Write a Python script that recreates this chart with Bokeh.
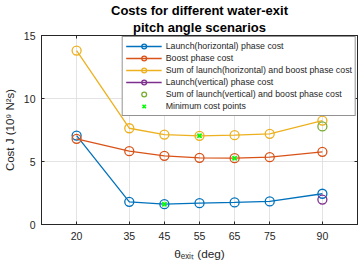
from bokeh.plotting import figure
from bokeh.models import (Legend, LegendItem, Title, Range1d, FixedTicker, LinearAxis,
                          CustomJSTickFormatter)
from bokeh.embed import file_html
from bokeh.resources import INLINE

angles = [20, 35, 45, 55, 65, 75, 90]
launch_h = [7.06, 1.80, 1.61, 1.69, 1.75, 1.83, 2.44]
boost = [6.80, 5.82, 5.45, 5.29, 5.26, 5.34, 5.77]
sum_h = [13.8, 7.64, 7.14, 7.04, 7.09, 7.20, 8.25]
launch_v_x = [90]
launch_v = [1.98]
sum_v_x = [90]
sum_v = [7.78]
min_x = [45, 55, 65]
min_y = [1.61, 7.04, 5.26]
x_ticks = [20, 35, 45, 55, 65, 75, 90]
y_ticks = [0, 5, 10, 15]
title_lines = ["Costs for different water-exit", "pitch angle scenarios"]

BLUE = "#0072BD"
ORANGE = "#D95319"
YELLOW = "#EDB120"
PURPLE = "#7E2F8E"
GREEN = "#77AC30"
LIME = "#00FF00"
AX = "#262626"
FONT = "Liberation Sans"

p = figure(width=360, height=267, output_backend="svg", toolbar_location=None,
           x_range=Range1d(10, 100), y_range=Range1d(0, 15),
           min_border_left=41, min_border_right=3, min_border_top=35, min_border_bottom=43)
p.title = None
p.background_fill_color = "white"
p.border_fill_color = "white"
p.outline_line_color = AX
p.outline_line_width = 1

xax = p.below[0]
yax = p.left[0]

# mirrored tick marks on top and right (no labels)
blank = CustomJSTickFormatter(code="return ''")
top_ax = LinearAxis(ticker=FixedTicker(ticks=x_ticks), formatter=blank,
                    major_label_standoff=0, major_tick_in=3, major_tick_out=0,
                    minor_tick_line_color=None, axis_line_color=AX, major_tick_line_color=AX)
p.add_layout(top_ax, "above")
right_ax = LinearAxis(ticker=FixedTicker(ticks=y_ticks), formatter=blank,
                      major_label_standoff=0, major_tick_in=3, major_tick_out=0,
                      minor_tick_line_color=None, axis_line_color=AX, major_tick_line_color=AX)
p.add_layout(right_ax, "right")

# title: second line first (closest to the frame), then first line above it
for txt, sto in ((title_lines[1], 1), (title_lines[0], 0)):
    p.add_layout(Title(text=txt, align="center", text_font=FONT, text_font_size="13px",
                       text_font_style="bold", text_color="black", standoff=sto), "above")

for ax in (xax, yax):
    ax.axis_line_color = AX
    ax.major_tick_line_color = AX
    ax.major_tick_in = 3
    ax.major_tick_out = 0
    ax.minor_tick_line_color = None
    ax.major_label_text_font = FONT
    ax.major_label_text_font_size = "10.5px"
    ax.major_label_text_color = AX
    ax.axis_label_text_font = FONT
    ax.axis_label_text_font_style = "normal"
    ax.axis_label_text_color = AX

xax.axis_label_text_font_size = "11.8px"
yax.axis_label_text_font_size = "11.5px"
xax.ticker = FixedTicker(ticks=x_ticks)
yax.ticker = FixedTicker(ticks=y_ticks)
xax.axis_label = "θₑₓᵢₜ (deg)"
yax.axis_label = "Cost J (10⁹ N²s)"
xax.major_label_standoff = 7
xax.axis_label_standoff = 4
yax.major_label_standoff = 6
yax.axis_label_standoff = 5

p.xgrid.ticker = FixedTicker(ticks=x_ticks)
p.ygrid.ticker = FixedTicker(ticks=y_ticks)
p.grid.grid_line_color = "#dcdcdc"
p.grid.grid_line_alpha = 0.8

msize = 9
lw = 1.3

r1l = p.line(angles, launch_h, color=BLUE, line_width=lw)
r1c = p.scatter(angles, launch_h, marker="circle", size=msize, line_color=BLUE, fill_color=None, line_width=lw)
r2l = p.line(angles, boost, color=ORANGE, line_width=lw)
r2c = p.scatter(angles, boost, marker="circle", size=msize, line_color=ORANGE, fill_color=None, line_width=lw)
r3l = p.line(angles, sum_h, color=YELLOW, line_width=lw)
r3c = p.scatter(angles, sum_h, marker="circle", size=msize, line_color=YELLOW, fill_color=None, line_width=lw)
r4l = p.line(launch_v_x, launch_v, color=PURPLE, line_width=lw)
r4c = p.scatter(launch_v_x, launch_v, marker="circle", size=msize, line_color=PURPLE, fill_color=None, line_width=lw)
r5c = p.scatter(sum_v_x, sum_v, marker="circle", size=msize, line_color=GREEN, fill_color=None, line_width=lw)
r6 = p.scatter(min_x, min_y, marker="x", size=6, line_color=LIME, line_width=1.6)

legend = Legend(items=[
    LegendItem(label="Launch(horizontal) phase cost", renderers=[r1l, r1c]),
    LegendItem(label="Boost phase cost", renderers=[r2l, r2c]),
    LegendItem(label="Sum of launch(horizontal) and boost phase cost", renderers=[r3l, r3c]),
    LegendItem(label="Launch(vertical) phase cost", renderers=[r4l, r4c]),
    LegendItem(label="Sum of launch(vertical) and boost phase cost", renderers=[r5c]),
    LegendItem(label="Minimum cost points", renderers=[r6]),
], location="top_right")
legend.margin = 1
legend.padding = 3
legend.spacing = 0
legend.glyph_width = 36
legend.glyph_height = 12
legend.label_height = 12
legend.label_standoff = 4
legend.label_text_font = FONT
legend.label_text_font_size = "8.8px"
legend.label_text_color = AX
legend.border_line_color = AX
legend.border_line_width = 1
legend.background_fill_color = "white"
legend.background_fill_alpha = 1
p.add_layout(legend, "center")

open("out.html", "w").write(file_html(p, INLINE))
